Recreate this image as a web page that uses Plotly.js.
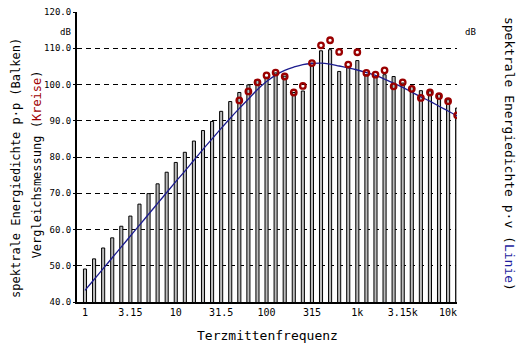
<!DOCTYPE html>
<html>
<head>
<meta charset="utf-8">
<script src="https://cdn.plot.ly/plotly-3.0.1.min.js"></script>
<style>html,body{margin:0;padding:0;background:#fff;}#chart{width:523px;height:345px;}</style>
</head>
<body>
<div id="chart"></div>
<script>
// Third-octave band centre frequencies (categories)
const bands = ['1','1.25','1.6','2','2.5','3.15','4','5','6.3','8',
  '10','12.5','16','20','25','31.5','40','50','63','80',
  '100','125','160','200','250','315','400','500','630','800',
  '1k','1.25k','1.6k','2k','2.5k','3.15k','4k','5k','6.3k','8k',
  '10k','12.5k'];
const tickLabels = ['1','3.15','10','31.5','100','315','1k','3.15k','10k'];
const yTicks = [40,50,60,70,80,90,100,110,120];

// Bars: spektrale Energiedichte p·p (dB)
const barLevels = [49.1,51.9,54.9,57.7,60.9,63.7,67.0,69.9,72.6,75.8,
  78.5,81.3,84.4,87.3,89.8,92.6,95.3,97.8,99.9,101.2,
  102.0,103.2,102.3,97.8,98.2,105.9,109.3,109.6,103.6,105.0,
  106.6,102.7,102.1,102.7,102.2,100.4,99.5,98.3,98.2,97.3,
  95.8,93.5];
// Circles: Vergleichsmessung (dB), from 50 Hz on
const circleLevels = [null,null,null,null,null,null,null,null,null,null,
  null,null,null,null,null,null,null,95.6,98.1,100.6,
  102.5,103.3,102.2,97.8,99.6,105.9,110.8,112.2,109.0,105.5,
  108.9,103.2,102.7,103.9,99.5,100.6,98.8,96.3,97.8,96.8,
  95.4,91.5];
// Line: spektrale Energiedichte p·v (dB)
const lineLevels = [43.2,46.2,49.2,52.2,55.2,58.2,61.2,64.2,67.2,70.2,
  73.2,76.1,79.1,82.1,85.0,87.9,90.7,93.4,96.0,98.6,
  100.8,102.6,103.9,104.8,105.5,105.8,105.9,105.6,105.1,104.6,
  104.0,103.3,102.5,101.5,100.4,99.2,97.9,96.6,95.4,94.0,
  92.7,91.3];

const idx = bands.map((b, i) => i);
const tickPos = tickLabels.map(t => bands.indexOf(t));
const mono = 'DejaVu Sans Mono, monospace';
const xr = [-0.88, 40.98];
const yr = [40, 120];

const traces = [
  {type:'bar', x: idx, y: barLevels, width: 0.34,
   marker:{color:'#bdbdbd', line:{color:'#000', width:1}}, hoverinfo:'skip'},
  {type:'scatter', mode:'lines', x: idx, y: lineLevels,
   line:{color:'#1c1c8e', width:1.3, shape:'spline'}, hoverinfo:'skip'},
  {type:'scatter', mode:'markers', x: idx, y: circleLevels,
   marker:{symbol:'circle-open', size:5.5, color:'#9a0000', line:{color:'#9a0000', width:2.3}},
   hoverinfo:'skip'}
];

const layout = {
  width:523, height:345,
  margin:{l:77, r:66, t:12, b:43},
  paper_bgcolor:'#fff', plot_bgcolor:'#fff',
  showlegend:false, bargap:0,
  font:{family:mono, size:9, color:'#000'},
  xaxis:{range:xr, tickmode:'array', tickvals:tickPos, ticktext:tickLabels,
    showgrid:false, zeroline:false, showline:true, linecolor:'#000', linewidth:2,
    ticks:'', tickfont:{family:mono, size:10}, fixedrange:true},
  xaxis2:{range:xr, overlaying:'x', side:'top', anchor:'y', tickmode:'array', tickvals:idx,
    ticks:'inside', ticklen:3, tickcolor:'#000', tickwidth:1,
    showticklabels:false, showgrid:false, zeroline:false, showline:true, linecolor:'#000', linewidth:1.5},
  yaxis:{range:yr, tickmode:'array', tickvals:yTicks, tickformat:'.1f',
    showgrid:true, gridcolor:'#000', gridwidth:1, griddash:'5px,4px',
    zeroline:false, showline:true, linecolor:'#000', linewidth:2,
    ticks:'outside', ticklen:2, tickcolor:'#000', tickfont:{family:mono, size:9}},
  yaxis2:{range:yr, overlaying:'y', side:'right', anchor:'x', tickmode:'array', tickvals:yTicks, tickformat:'.1f',
    showgrid:false, zeroline:false, showline:true, linecolor:'#000', linewidth:2,
    ticks:'outside', ticklen:3, tickcolor:'#000', tickfont:{family:mono, size:9}},
  annotations:[
    {text:'dB', xref:'paper', yref:'paper', x:-0.03, y:0.93, xanchor:'center', yanchor:'middle', showarrow:false, font:{family:mono, size:9}},
    {text:'dB', xref:'paper', yref:'paper', x:1.036, y:0.93, xanchor:'center', yanchor:'middle', showarrow:false, font:{family:mono, size:9}},
    {text:'spektrale Energiedichte p·p (Balken)', xref:'paper', yref:'paper', x:-0.16, y:0.463,
     xanchor:'center', yanchor:'middle', textangle:-90, showarrow:false, font:{family:mono, size:12}},
    {text:'Vergleichsmessung (<span style="color:#a00000">Kreise</span>)', xref:'paper', yref:'paper', x:-0.105, y:0.475,
     xanchor:'center', yanchor:'middle', textangle:-90, showarrow:false, font:{family:mono, size:12}},
    {text:'spektrale Energiedichte p·v (<span style="color:#1c1c9e">Linie</span>)', xref:'paper', yref:'paper', x:1.14, y:0.51,
     xanchor:'center', yanchor:'middle', textangle:90, showarrow:false, font:{family:mono, size:13}},
    {text:'Terzmittenfrequenz', xref:'paper', yref:'paper', x:0.5, y:-0.115,
     xanchor:'center', yanchor:'middle', showarrow:false, font:{family:mono, size:13}}
  ]
};

Plotly.newPlot('chart', traces, layout, {staticPlot:true, displayModeBar:false});
</script>
</body>
</html>
